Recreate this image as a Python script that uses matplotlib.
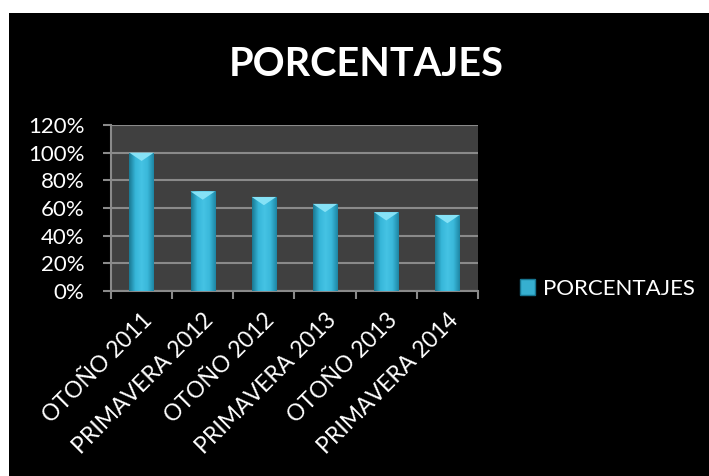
import matplotlib
matplotlib.use("Agg")
import matplotlib.pyplot as plt
import numpy as np
from matplotlib.patches import Polygon, Patch
from matplotlib.colors import LinearSegmentedColormap

plt.rcParams['font.family'] = ['Lato', 'DejaVu Sans']

categories = ['OTOÑO 2011', 'PRIMAVERA 2012', 'OTOÑO 2012',
              'PRIMAVERA 2013', 'OTOÑO 2013', 'PRIMAVERA 2014']
values = [1.00, 0.72, 0.68, 0.63, 0.57, 0.55]
yticks = [0, 0.2, 0.4, 0.6, 0.8, 1.0, 1.2]
ytick_labels = ['0%', '20%', '40%', '60%', '80%', '100%', '120%']
series_name = 'PORCENTAJES'

fig = plt.figure(figsize=(7.09, 4.76), dpi=100)
fig.patch.set_facecolor('white')
# black chart area (white margin on top/left as in the reference)
fig.patches.append(plt.Rectangle((9/709, 0), 1, 1 - 13/476, transform=fig.transFigure,
                                 facecolor='black', edgecolor='none', zorder=-10))

ax = fig.add_axes([111/709, 1 - 291/476, (478-111)/709, (291-125)/476])
ax.set_facecolor('#404040')

x = np.arange(len(categories))
bars = ax.bar(x, values, width=0.4, color='#36afd0', zorder=2)

# horizontal gradient inside each bar
cmap = LinearSegmentedColormap.from_list('cyl', ['#1a7892', '#36b6d8', '#45c3e4', '#3ab8da', '#1e86a4'])
grad = np.linspace(0, 1, 64).reshape(1, -1)
for b in bars:
    x0, w, h = b.get_x(), b.get_width(), b.get_height()
    im = ax.imshow(grad, cmap=cmap, aspect='auto', extent=[x0, x0 + w, 0, h], zorder=3)
    im.set_clip_path(b)
    top = Polygon([(x0, h), (x0 + w, h), (x0 + w / 2, h - 0.06)], closed=True,
                  facecolor='#86e2f6', edgecolor='none', zorder=4)
    ax.add_patch(top)

ax.set_xlim(-0.5, len(categories) - 0.5)
ax.set_ylim(0, 1.2)
ax.set_yticks(yticks)
ax.set_yticklabels(ytick_labels)
ax.yaxis.grid(True, color='#8a8a8a', linewidth=1.5, zorder=1)
ax.set_axisbelow(True)

ax.set_xticks(x)
ax.set_xticklabels(categories, rotation=45, ha='right', rotation_mode='anchor')
ax.set_xticks(np.arange(-0.5, len(categories)), minor=True)
ax.tick_params(axis='x', which='major', length=0, pad=13, labelsize=16.5, colors='white')
ax.tick_params(axis='x', which='minor', length=6, width=1.5, color='#8a8a8a')
ax.tick_params(axis='y', length=6, width=1.5, color='#8a8a8a', labelsize=16,
               labelcolor='white', pad=13)

for s in ['top', 'right']:
    ax.spines[s].set_visible(False)
for s in ['left', 'bottom']:
    ax.spines[s].set_color('#8a8a8a')
    ax.spines[s].set_linewidth(1.5)

fig.text(366/709, 1 - 64/476, 'PORCENTAJES', color='white', fontsize=28.5,
         fontweight='bold', ha='center', va='center')

leg = ax.legend([Patch(facecolor='#36afd0', edgecolor='#177590')], [series_name],
                loc='center left', bbox_to_anchor=(502/709, 1 - 289/476),
                bbox_transform=fig.transFigure, frameon=False, fontsize=16,
                handlelength=0.7, handleheight=0.7, handletextpad=0.35,
                borderpad=0.3)
for t in leg.get_texts():
    t.set_color('white')

fig.savefig('out.png', dpi=100)
